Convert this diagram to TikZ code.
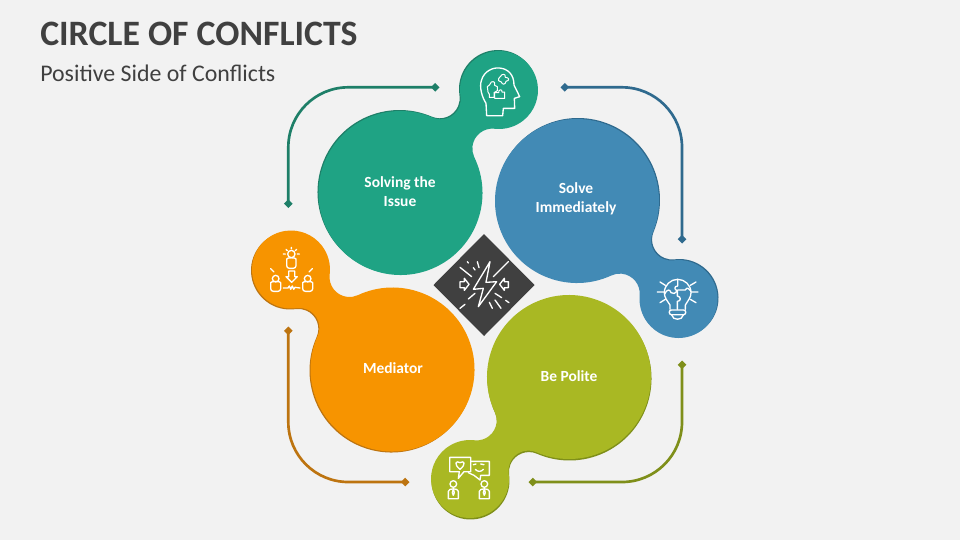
\documentclass[tikz,border=0pt]{standalone}
\usepackage{fontspec}
\setmainfont{Carlito}
\usetikzlibrary{arrows.meta}
\definecolor{bgc}{HTML}{F2F2F2}
\definecolor{tealm}{HTML}{1FA384}
\definecolor{teald}{HTML}{1E7F68}
\definecolor{bluem}{HTML}{428AB5}
\definecolor{blued}{HTML}{2F6A8E}
\definecolor{greenm}{HTML}{A9B823}
\definecolor{greend}{HTML}{7F8F1A}
\definecolor{orangem}{HTML}{F79400}
\definecolor{oranged}{HTML}{BD7410}
\definecolor{darkc}{HTML}{404040}
\newcommand{\blobpath}[7]{%
  \pgfmathsetmacro{\dx}{#4-#1}\pgfmathsetmacro{\dy}{#5-#2}
  \pgfmathsetmacro{\dd}{veclen(\dx,\dy)}
  \pgfmathsetmacro{\ux}{\dx/\dd}\pgfmathsetmacro{\uy}{\dy/\dd}
  \pgfmathsetmacro{\aa}{(#3+#7)/100}\pgfmathsetmacro{\bb}{(#6+#7)/100}\pgfmathsetmacro{\de}{\dd/100}
  \pgfmathsetmacro{\xx}{(\aa*\aa+\de*\de-\bb*\bb)/(2*\de)}
  \pgfmathsetmacro{\hh}{sqrt(\aa*\aa-\xx*\xx)}
  \pgfmathsetmacro{\Fax}{#1+100*(\xx*\ux-\hh*\uy)}\pgfmathsetmacro{\Fay}{#2+100*(\xx*\uy+\hh*\ux)}
  \pgfmathsetmacro{\Fbx}{#1+100*(\xx*\ux+\hh*\uy)}\pgfmathsetmacro{\Fby}{#2+100*(\xx*\uy-\hh*\ux)}
  \pgfmathsetmacro{\sA}{atan2(\Fay-#2,\Fax-#1)}
  \pgfmathsetmacro{\eA}{atan2(\Fby-#2,\Fbx-#1)}
  \pgfmathsetmacro{\eA}{\sA+mod(\eA-\sA+720,360)}
  \pgfmathsetmacro{\sB}{\eA+180}
  \pgfmathsetmacro{\eB}{atan2(#5-\Fby,#4-\Fbx)}
  \pgfmathsetmacro{\eBB}{\sB-mod(\sB-\eB+1440,360)}
  \pgfmathsetmacro{\sC}{\eB+180}
  \pgfmathsetmacro{\eC}{atan2(\Fay-#5,\Fax-#4)}
  \pgfmathsetmacro{\eCC}{\sC+mod(\eC-\sC+1440,360)}
  \pgfmathsetmacro{\sD}{\eC+180}
  \pgfmathsetmacro{\eD}{\sA+180}
  \pgfmathsetmacro{\eDD}{\sD-mod(\sD-\eD+1440,360)}
  \pgfmathsetmacro{\stx}{#1+#3*cos(\sA)}\pgfmathsetmacro{\sty}{#2+#3*sin(\sA)}
}
\newcommand{\blobdraw}[3]{%
  (\stx,\sty) arc[start angle=\sA,end angle=\eA,radius=#1]
  arc[start angle=\sB,end angle=\eBB,radius=#3]
  arc[start angle=\sC,end angle=\eCC,radius=#2]
  arc[start angle=\sD,end angle=\eDD,radius=#3] -- cycle}
\newcommand{\blob}[9]{%
  \blobpath{#1}{#2}{#3}{#4}{#5}{#6}{20}
  \fill[#8,shift={(#9)}] \blobdraw{#3}{#6}{20};
  \fill[#7] \blobdraw{#3}{#6}{20};
}
\tikzset{
  conn/.style={line width=2pt,rounded corners=45pt,{Diamond[length=6.5pt,width=6.5pt]}-{Diamond[length=6.5pt,width=6.5pt]}},
  lbl/.style={text=white,font=\bfseries\fontsize{11.6}{14.25}\selectfont,align=center,inner sep=0pt},
  ico/.style={draw=white,line width=1pt,line join=round,line cap=round},
  icot/.style={draw=white,line width=0.75pt,line join=round,line cap=round},
}
\begin{document}
\begin{tikzpicture}[x=0.75pt,y=-0.75pt]
\useasboundingbox (0,0) rectangle (960,540);
\fill[bgc] (0,0) rectangle (960,540);
\node[anchor=west,inner sep=0pt,text=darkc,font=\bfseries\fontsize{26.8}{30}\selectfont] (title) at (40,34) {CIRCLE OF CONFLICTS};
\node[anchor=west,inner sep=0pt,text=darkc,font=\fontsize{17.9}{22}\selectfont] (sub) at (40,73) {Positive Side of Conflicts};

% blobs
\blob{400.5}{193}{82}{499}{90}{39}{tealm}{teald}{-1,-1}
\blob{577}{201}{82}{678.5}{299}{39}{bluem}{blued}{1,-1}
\blob{569}{377}{82}{470}{479}{39}{greenm}{greend}{0.5,1.5}
\blob{392.5}{369.5}{82}{291}{269.5}{39}{orangem}{oranged}{-1,1}

% connectors
\coordinate (t1) at (439.5,87.3); \coordinate (t2) at (288.3,208);
\coordinate (b1) at (560.5,87.3); \coordinate (b2) at (682,243.5);
\coordinate (g1) at (682,360.5); \coordinate (g2) at (528.5,482);
\coordinate (o1) at (409.5,482); \coordinate (o2) at (288.3,326.5);
\draw[conn,draw=teald] (t1) -| (t2);
\draw[conn,draw=blued] (b1) -| (b2);
\draw[conn,draw=greend] (g1) |- (g2);
\draw[conn,draw=oranged] (o1) -| (o2);

% labels
\node[lbl] (ls) at (400,192) {Solving the\\Issue};
\node[lbl] (li) at (576,199) {Solve\\Immediately};
\node[lbl] (lm) at (393,368.5) {Mediator};
\node[lbl] (lp) at (569,376.5) {Be Polite};

% centre diamond
\fill[darkc] (484,234) -- (534.5,285) -- (484,336) -- (433.5,285) -- cycle;
\begin{scope}[shift={(425,225)},x=0.25pt,y=-0.25pt]
 \draw[ico] (195,110) -- (145,193) -- (175,190) -- (160,245) -- (215,170) -- (183,172) -- cycle;
 \draw[ico] (105,170) -- (118,170) -- (118,160) -- (132,178) -- (118,196) -- (118,188) -- (105,188) -- cycle;
 \draw[ico] (250,170) -- (238,170) -- (238,160) -- (224,178) -- (238,196) -- (238,188) -- (250,188) -- cycle;
 \draw[ico] (105,127) -- (140,155) (250,110) -- (205,155) (127,110) -- (130,114) (145,128) -- (150,135) (157,110) -- (162,128)
   (105,250) -- (120,238) (130,222) -- (150,205) (242,226) -- (252,233) (210,205) -- (230,218) (210,225) -- (228,250) (193,232) -- (202,250);
\end{scope}

% head icon
\begin{scope}[shift={(420,40)},x=0.25pt,y=-0.25pt]
 \draw[ico] (200,227) -- (198,190) .. controls (185,170) and (178,140) .. (184,122)
   .. controls (192,92) and (220,82) .. (238,84) .. controls (265,86) and (282,105) .. (282,135)
   -- (299,170) -- (283,175) -- (284,205) -- (250,205) -- (248,227) -- cycle;
 \draw[icot] (236,122) .. controls (232,112) and (244,112) .. (246,104) .. controls (254,100) and (258,108) .. (256,112)
   .. controls (268,112) and (270,122) .. (258,124) .. controls (256,136) and (246,134) .. (244,126) -- cycle;
 \draw[icot] (202,140) .. controls (208,136) and (210,134) .. (214,126) .. controls (222,122) and (228,130) .. (224,136) -- (232,140)
   -- (232,152) -- (222,158) -- (222,172) -- (208,172) .. controls (206,166) and (212,160) .. (204,156) -- cycle;
 \draw[icot] (224,175) -- (224,158) -- (236,158) .. controls (234,148) and (248,146) .. (246,156) -- (254,156) -- (254,175) -- cycle;
\end{scope}

% bulb icon
\begin{scope}[shift={(620,220)},x=0.25pt,y=-0.25pt]
 \draw[ico] (150,268) -- (150,255) .. controls (140,240) and (133,232) .. (133,218)
   .. controls (133,195) and (152,178) .. (173,178) .. controls (194,178) and (213,195) .. (213,218)
   .. controls (213,232) and (205,240) .. (196,255) -- (196,268);
 \draw[ico,rounded corners=1.5pt] (148,270) rectangle (197,284);
 \draw[ico] (155,285) .. controls (158,302) and (187,302) .. (190,285);
 \draw[ico] (112,216) -- (131,216) (214,216) -- (234,216) (120,186) -- (136,196) (211,196) -- (228,186) (120,248) -- (136,238) (211,238) -- (228,248);
 \draw[ico] (173,178) -- (173,198) .. controls (162,198) and (162,210) .. (172,212) -- (172,228) .. controls (184,230) and (184,244) .. (172,244) -- (172,268);
 \draw[ico] (134,222) .. controls (140,208) and (150,206) .. (153,218) .. controls (158,224) and (166,220) .. (172,212);
 \draw[ico] (173,210) -- (196,210) .. controls (200,200) and (208,206) .. (212,212);
\end{scope}

% orange icon
\begin{scope}[shift={(240,220)},x=0.25pt,y=-0.25pt]
 \draw[ico] (154,102) circle[radius=11];
 \draw[ico,rounded corners=2pt] (140,145) -- (140,125) .. controls (140,112) and (168,112) .. (168,125) -- (168,145) -- cycle;
 \draw[ico] (130,102) -- (136,102) (172,102) -- (178,102) (138,88) -- (142,92) (170,88) -- (166,92) (154,82) -- (154,86);
 \draw[ico] (146,153) -- (164,153) -- (164,170) -- (172,170) -- (155,187) -- (138,170) -- (146,170) -- cycle;
 \draw[ico] (107,176) circle[radius=10];
 \draw[ico,rounded corners=2pt] (92,214) -- (92,196) .. controls (92,183) and (122,183) .. (122,196) -- (122,214) -- cycle;
 \draw[ico] (203,176) circle[radius=10];
 \draw[ico,rounded corners=2pt] (188,214) -- (188,196) .. controls (188,183) and (218,183) .. (218,196) -- (218,214) -- cycle;
 \draw[ico] (130,204) -- (144,204) -- (148,198) -- (152,208) -- (157,198) -- (161,208) -- (165,202) -- (180,204);
 \draw[ico] (92,146) -- (102,156) (217,146) -- (207,156);
\end{scope}

% green icon
\begin{scope}[shift={(420,420)},x=0.25pt,y=-0.25pt]
 \draw[ico] (89,112) -- (152,112) -- (152,155) -- (132,155) -- (115,175) -- (118,155) -- (89,155) -- cycle;
 \draw[ico] (120,148) .. controls (100,132) and (108,120) .. (120,128) .. controls (132,120) and (140,132) .. (120,148) -- cycle;
 \draw[ico] (152,124) -- (208,124) -- (208,166) -- (182,166) -- (180,180) -- (162,166) -- (145,158);
 \draw[ico] (166,148) .. controls (172,156) and (184,156) .. (190,148) (160,134) -- (168,132) (182,132) -- (192,134);
 \draw[ico] (100,192) circle[radius=10] (193,192) circle[radius=10];
 \draw[ico] (85,236) -- (85,214) .. controls (85,204) and (115,204) .. (115,214) -- (115,236) -- cycle;
 \draw[ico] (178,236) -- (178,214) .. controls (178,204) and (208,204) .. (208,214) -- (208,236) -- cycle;
 \draw[ico] (100,207) -- (97,218) -- (100,226) -- (103,218) -- cycle;
 \draw[ico] (193,207) -- (190,218) -- (193,226) -- (196,218) -- cycle;
\end{scope}
\end{tikzpicture}
\end{document}
